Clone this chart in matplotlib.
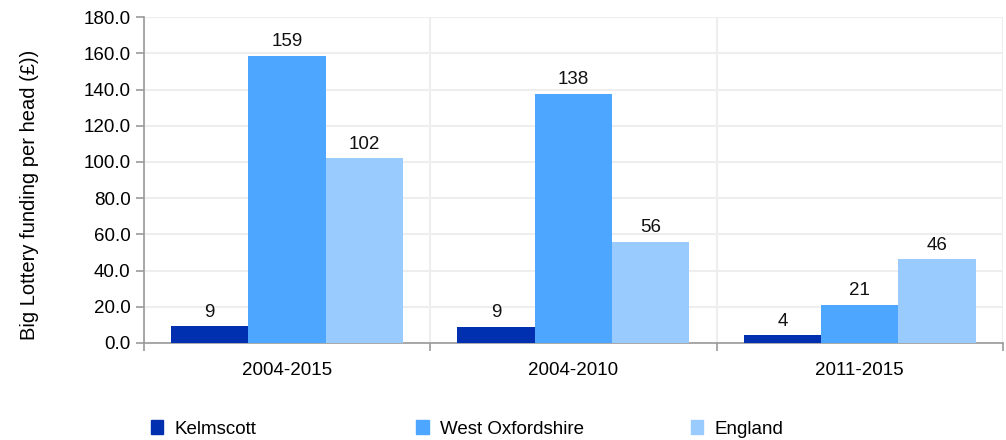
import numpy as np
import matplotlib.pyplot as plt
from matplotlib.ticker import FormatStrFormatter
from matplotlib.patches import Patch

plt.rcParams['font.family'] = ['Liberation Sans', 'DejaVu Sans']

periods = ["2004-2015", "2004-2010", "2011-2015"]
kelmscott = [9.2, 9.1, 4.3]
west_oxon = [158.8, 137.6, 21.0]
england = [102.1, 55.9, 46.3]

series = [("Kelmscott", kelmscott, "#0030b0"),
          ("West Oxfordshire", west_oxon, "#4da6ff"),
          ("England", england, "#99cbff")]

fs = 13.5
fig = plt.figure(figsize=(10.06, 4.40), dpi=100)
ax = fig.add_axes([0.143, 0.2205, 0.854, 0.7405])

x = np.arange(len(periods))
w = 0.27
for i, (name, vals, col) in enumerate(series):
    bars = ax.bar(x + (i - 1) * w, vals, w, color=col, label=name, zorder=3)
    ax.bar_label(bars, labels=[f"{v:.0f}" for v in vals], padding=4, fontsize=fs, color="#111111")

ax.set_xlim(-0.5, len(periods) - 0.5)
ax.set_ylim(0, 180)
ax.set_yticks(np.arange(0, 181, 20))
ax.yaxis.set_major_formatter(FormatStrFormatter('%.1f'))
ax.set_xticks(x)
ax.set_xticklabels(periods)
ax.set_xticks(np.arange(-0.5, len(periods)), minor=True)
ax.tick_params(axis='x', which='major', length=0, pad=14, labelsize=fs)
ax.tick_params(axis='x', which='minor', length=6, color="#999999", width=1.2)
ax.tick_params(axis='y', length=6, color="#999999", width=1.2, labelsize=fs)

ax.grid(axis='y', color="#eeeeee", linewidth=1.5, zorder=0)
ax.grid(axis='x', which='minor', color="#eeeeee", linewidth=1.5, zorder=0)
for s in ['top', 'right']:
    ax.spines[s].set_visible(False)
for s in ['left', 'bottom']:
    ax.spines[s].set_color("#999999")
    ax.spines[s].set_linewidth(1.2)

fig.text(0.029, 0.557, "Big Lottery funding per head (£))", rotation=90,
         fontsize=14.5, ha='center', va='center')

# legend entries sit at fixed positions along the bottom
legend_x = [0.150, 0.414, 0.687]
for (name, vals, col), lx in zip(series, legend_x):
    fig.legend(handles=[Patch(color=col, label=name)], loc='center left',
               bbox_to_anchor=(lx, 0.025), frameon=False, fontsize=fs,
               handlelength=0.65, handleheight=0.7, handletextpad=0.6,
               borderaxespad=0, borderpad=0)

fig.savefig("out.png", dpi=100)
